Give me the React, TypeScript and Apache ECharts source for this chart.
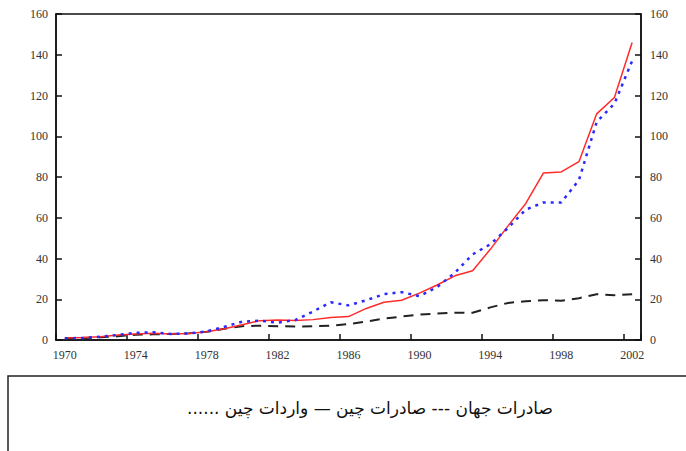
import React, { useEffect, useRef } from "react";
import * as echarts from "echarts";

const years: string[] = [];
for (let y = 1970; y <= 2002; y++) years.push(String(y));

// China exports (solid red)
const chinaExports = [
  1.0, 1.2, 1.6, 2.5, 3.0, 3.3, 3.0, 3.2, 4.0, 5.5,
  7.5, 9.5, 9.8, 9.6, 10.0, 11.0, 11.5, 15.5, 18.5, 19.5,
  23.0, 27.0, 31.5, 34.0, 44.5, 56.0, 67.0, 82.0, 82.5, 87.5,
  111.0, 119.0, 146.0,
];

// China imports (dotted blue)
const chinaImports = [
  0.8, 1.0, 1.6, 2.5, 3.5, 3.8, 3.0, 3.2, 4.2, 6.5,
  9.0, 9.5, 8.5, 9.8, 14.0, 18.5, 17.0, 19.5, 22.5, 23.5,
  21.5, 26.0, 33.0, 42.0, 47.0, 55.0, 64.0, 67.5, 67.5, 78.5,
  107.0, 116.0, 137.0,
];

// World exports (dashed black)
const worldExports = [
  0.8, 1.0, 1.3, 1.8, 2.6, 2.8, 3.0, 3.3, 4.0, 5.5,
  6.8, 7.0, 6.8, 6.6, 6.8, 7.0, 7.8, 9.0, 10.5, 11.5,
  12.5, 13.0, 13.4, 13.4, 16.0, 18.2, 19.0, 19.5, 19.3, 20.5,
  22.5, 22.0, 22.5,
];

const legendText = "صادرات جهان --- صادرات چین — واردات چین ......\u200F";

export default function App() {
  const ref = useRef<HTMLDivElement>(null);

  useEffect(() => {
    if (!ref.current) return;
    const chart = echarts.init(ref.current, undefined, { renderer: "svg" });
    const axisFont = {
      fontFamily: "Liberation Serif",
      fontSize: 12,
      color: "#333",
    };
    const yCommon = {
      type: "value" as const,
      min: 0,
      max: 160,
      interval: 20,
      axisLine: { show: true, lineStyle: { color: "#111", width: 1.5 } },
      axisTick: { show: true, inside: true, length: 6, lineStyle: { color: "#111", width: 1.5 } },
      splitLine: { show: false },
    };
    chart.setOption({
      animation: false,
      backgroundColor: "#fff",
      grid: {
        left: 56,
        right: 45,
        top: 14,
        bottom: 111,
        show: true,
        borderColor: "#111",
        borderWidth: 1.5,
        backgroundColor: "transparent",
      },
      xAxis: {
        type: "category",
        data: years,
        boundaryGap: true,
        axisLine: { show: true, lineStyle: { color: "#111", width: 1.5 } },
        axisTick: { show: true, inside: true, length: 6, interval: 3, lineStyle: { color: "#111", width: 1.5 } },
        axisLabel: { ...axisFont, interval: 3, margin: 9 },
        splitLine: { show: false },
      },
      yAxis: [
        { ...yCommon, position: "left", axisLabel: { ...axisFont, margin: 8 } },
        { ...yCommon, position: "right", axisLabel: { ...axisFont, margin: 9 } },
      ],
      series: [
        {
          name: "صادرات جهان",
          type: "line",
          data: worldExports,
          symbol: "none",
          lineStyle: { color: "#222", width: 2, type: [10, 7] },
          z: 2,
        },
        {
          name: "صادرات چین",
          type: "line",
          data: chinaExports,
          symbol: "none",
          lineStyle: { color: "#ff2a2a", width: 1.5, type: "solid" },
          z: 3,
        },
        {
          name: "واردات چین",
          type: "line",
          data: chinaImports,
          symbol: "none",
          lineStyle: { color: "#2a2aff", width: 2.5, type: [3, 5] },
          z: 4,
        },
      ],
      graphic: [
        {
          type: "rect",
          shape: { x: 8, y: 376, width: 700, height: 100 },
          style: { fill: "transparent", stroke: "#222", lineWidth: 1.5 },
        },
        {
          type: "text",
          x: 370,
          y: 408,
          style: {
            text: legendText,
            fontFamily: "DejaVu Sans",
            fontSize: 17,
            fill: "#111",
            align: "center",
            verticalAlign: "middle",
          },
        },
      ],
    });
    return () => chart.dispose();
  }, []);

  return (
    <div
      ref={ref}
      style={{ position: "fixed", left: 0, top: 0, width: 686, height: 451, background: "#fff" }}
    />
  );
}
